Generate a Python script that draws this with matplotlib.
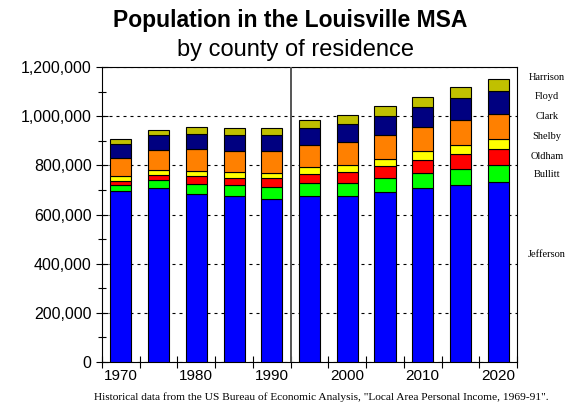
import numpy as np
import matplotlib
matplotlib.use('Agg')
import matplotlib.pyplot as plt
import matplotlib.ticker as mtick

# Population by county
years = [1970, 1975, 1980, 1985, 1990, 1995, 2000, 2005, 2010, 2015, 2020]
jefferson = [696000, 708000, 685000, 675000, 663000, 674000, 675000, 690000, 707000, 719000, 731000]
bullitt = [24000, 34000, 41000, 44000, 49000, 53000, 54000, 57000, 61000, 65000, 69000]
oldham = [16000, 19000, 31000, 30000, 35000, 38000, 43000, 49000, 54000, 61000, 65000]
shelby = [19000, 20000, 22000, 24000, 23000, 27000, 29000, 30000, 35000, 37000, 41000]
clark = [76000, 83000, 87000, 86000, 89000, 91000, 93000, 98000, 99000, 103000, 104000]
floyd = [57000, 59000, 62000, 64000, 65000, 69000, 75000, 79000, 84000, 90000, 95000]
harrison = [19000, 23000, 28000, 28000, 29000, 34000, 37000, 38000, 41000, 44000, 47000]

counties = ['Jefferson', 'Bullitt', 'Oldham', 'Shelby', 'Clark', 'Floyd', 'Harrison']
series = [jefferson, bullitt, oldham, shelby, clark, floyd, harrison]
colors = ['#0000ff', '#00ff00', '#ff0000', '#ffff00', '#ff8000', '#000080', '#c0c000']
year_labels = ['1970', '1980', '1990', '2000', '2010', '2020']

# where the county names sit on the right (data y)
label_y = [435000, 765000, 838000, 920000, 1001000, 1083000, 1160000]

fig = plt.figure(figsize=(5.8, 4.08), dpi=100)
ax = fig.add_axes([0.1759, 0.1135, 0.7155, 0.7215])

x = np.arange(len(years))
bottom = np.zeros(len(years))
for vals, c in zip(series, colors):
    ax.bar(x, vals, bottom=bottom, width=0.56, color=c, edgecolor='black', linewidth=0.8, zorder=3)
    bottom += np.array(vals)

ax.set_xlim(-0.5, len(years) - 0.5)
ax.set_ylim(0, 1200000)

# historical / projected separator
ax.axvline(4.5, color='#555555', lw=1.4, zorder=4)

ax.yaxis.set_major_locator(mtick.MultipleLocator(200000))
ax.yaxis.set_minor_locator(mtick.MultipleLocator(100000))
ax.yaxis.set_major_formatter(mtick.FuncFormatter(lambda v, p: '{:,.0f}'.format(v)))
ax.yaxis.grid(True, which='major', color='black', lw=0.8, linestyle=(0, (2.7, 3.6)), zorder=1)
ax.set_axisbelow(True)

ax.set_xticks(np.arange(0, len(years), 2))
ax.set_xticklabels(year_labels)
ax.set_xticks(np.arange(-0.5, len(years)), minor=True)
ax.tick_params(axis='x', which='major', length=0, pad=5, labelsize=11)
ax.tick_params(axis='x', which='minor', direction='inout', length=9, width=0.8)
ax.tick_params(axis='y', which='major', direction='inout', length=9, width=0.8, labelsize=11.5, pad=3)
ax.tick_params(axis='y', which='minor', direction='inout', length=6, width=0.8)
for lbl in ax.get_xticklabels() + ax.get_yticklabels():
    lbl.set_fontfamily('Liberation Sans')

for s in ax.spines.values():
    s.set_linewidth(0.8)

for name, yv in zip(counties, label_y):
    ax.text(1.072, yv, name, transform=ax.get_yaxis_transform(), ha='center', va='center',
            fontsize=7.5, family='Liberation Serif', clip_on=False)

fig.text(0.5, 1 - 26.7 / 408, 'Population in the Louisville MSA', ha='center', va='baseline',
         fontsize=16.5, fontweight='bold', family='Liberation Sans')
fig.text(0.51, 1 - 56 / 408, 'by county of residence', ha='center', va='baseline',
         fontsize=17, family='Liberation Sans')
fig.text(321 / 580, 1 - 397 / 408,
         'Historical data from the US Bureau of Economic Analysis, "Local Area Personal Income, 1969-91".',
         ha='center', va='center', fontsize=8.2, family='Liberation Serif')

fig.savefig('out.png', dpi=100)
